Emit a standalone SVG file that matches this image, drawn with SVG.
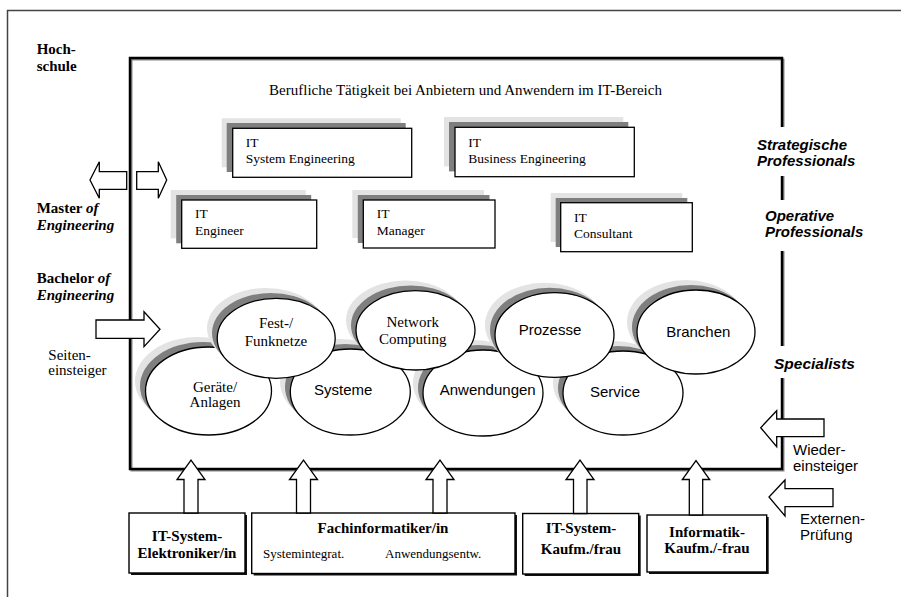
<svg xmlns="http://www.w3.org/2000/svg" width="901" height="597" viewBox="0 0 901 597">
<style>
.serif{font-family:"Liberation Serif","Times New Roman",serif;fill:#000}
.sans{font-family:"Liberation Sans",Arial,sans-serif;fill:#000}
.b{font-weight:bold}
.bi{font-weight:bold;font-style:italic}
.role{font-size:13.5px}
.lbl{font-size:15px}
.sh1{fill:#e3e3e3}
.sh2{fill:#7f7f7f}
.card{fill:#fff;stroke:#000;stroke-width:1.3}
.ell{fill:#fff;stroke:#000;stroke-width:1.3}
.arr{fill:#fff;stroke:#000;stroke-width:1.3;stroke-linejoin:miter}
.bshadow{fill:#111}
.bbox{fill:#fff;stroke:#000;stroke-width:1.4}
.gap{fill:#fff}
</style>
<rect width="901" height="597" fill="#fff"/>
<g id="frame">
<path d="M7.5,597 V10.5 H901" fill="none" stroke="#444" stroke-width="1.5"/>
</g>
<g id="main-box">
<rect x="131.5" y="59.5" width="652" height="411" fill="none" stroke="#888" stroke-width="2"/>
<rect x="130" y="58" width="652" height="411" fill="none" stroke="#000" stroke-width="2.5"/>
<text class="serif lbl" x="465.5" y="95" text-anchor="middle">Berufliche Tätigkeit bei Anbietern und Anwendern im IT-Bereich</text>
</g>
<g id="side-labels">
<rect class="gap" x="756" y="127" width="104" height="49"/>
<rect class="gap" x="762" y="200" width="104" height="51"/>
<rect class="gap" x="772" y="346" width="92" height="32"/>
<text class="sans bi" font-size="15" x="757" y="150">Strategische</text>
<text class="sans bi" font-size="15" x="757" y="166">Professionals</text>
<text class="sans bi" font-size="15" x="765" y="221">Operative</text>
<text class="sans bi" font-size="15" x="765" y="237">Professionals</text>
<text class="sans bi" font-size="15.5" x="774" y="369">Specialists</text>
</g>
<g id="hochschule">
<text class="serif b lbl" x="36.7" y="54">Hoch-</text>
<text class="serif b lbl" x="36.7" y="70.7">schule</text>
</g>
<g id="master">
<text class="serif b lbl" x="36.7" y="213.3">Master <tspan class="bi">of</tspan></text>
<text class="serif bi lbl" x="36.7" y="230">Engineering</text>
</g>
<g id="bachelor">
<text class="serif b lbl" x="36.7" y="283.3">Bachelor <tspan class="bi">of</tspan></text>
<text class="serif bi lbl" x="36.7" y="300">Engineering</text>
</g>
<g id="seiteneinsteiger">
<text class="serif lbl" x="48.3" y="360">Seiten-</text>
<text class="serif lbl" x="48.3" y="375">einsteiger</text>
</g>
<g id="wiedereinsteiger">
<text class="sans" font-size="15" x="793" y="455">Wieder-</text>
<text class="sans" font-size="15" x="793" y="471">einsteiger</text>
</g>
<g id="externenpruefung">
<text class="sans" font-size="15" x="800" y="524">Externen-</text>
<text class="sans" font-size="15" x="800" y="540">Prüfung</text>
</g>
<g id="it-system-engineering">
<rect class="sh1" x="221.7" y="118.3" width="179" height="49"/>
<rect class="sh2" x="226.7" y="123" width="179" height="49"/>
<rect class="card" x="232.7" y="128.3" width="179" height="49"/>
<text class="serif role" x="245.7" y="146.7">IT</text>
<text class="serif role" x="245.7" y="163.3">System Engineering</text>
</g>
<g id="it-business-engineering">
<rect class="sh1" x="444" y="117" width="179.3" height="49.4"/>
<rect class="sh2" x="449" y="122" width="179.3" height="49.4"/>
<rect class="card" x="455" y="127.3" width="179.3" height="49.4"/>
<text class="serif role" x="468.3" y="146.7">IT</text>
<text class="serif role" x="468.3" y="163.3">Business Engineering</text>
</g>
<g id="it-engineer">
<rect class="sh1" x="170.7" y="190" width="135" height="48.3"/>
<rect class="sh2" x="176.2" y="195" width="135" height="48.3"/>
<rect class="card" x="181.7" y="200" width="135" height="48.3"/>
<text class="serif role" x="195" y="218.3">IT</text>
<text class="serif role" x="195" y="235">Engineer</text>
</g>
<g id="it-manager">
<rect class="sh1" x="352.3" y="190" width="131.7" height="48"/>
<rect class="sh2" x="357.8" y="195" width="131.7" height="48"/>
<rect class="card" x="363.3" y="200" width="131.7" height="48"/>
<text class="serif role" x="376.7" y="218.3">IT</text>
<text class="serif role" x="376.7" y="235">Manager</text>
</g>
<g id="it-consultant">
<rect class="sh1" x="550.7" y="193" width="131.6" height="49"/>
<rect class="sh2" x="555.7" y="198" width="131.6" height="49"/>
<rect class="card" x="560.7" y="202.7" width="131.6" height="49"/>
<text class="serif role" x="574" y="221.7">IT</text>
<text class="serif role" x="574" y="237.7">Consultant</text>
</g>
<g id="geraete">
<ellipse class="sh1" cx="198" cy="381" rx="63" ry="44"/>
<ellipse class="sh2" cx="203" cy="386" rx="63" ry="44"/>
<ellipse class="ell" cx="208.5" cy="391" rx="63" ry="44"/>
<text class="serif lbl" x="215" y="391.7" text-anchor="middle">Geräte/</text>
<text class="serif lbl" x="215" y="407" text-anchor="middle">Anlagen</text>
</g>
<g id="systeme">
<ellipse class="sh1" cx="340" cy="382" rx="60" ry="43"/>
<ellipse class="sh2" cx="345" cy="387" rx="60" ry="43"/>
<ellipse class="ell" cx="350.3" cy="392" rx="60" ry="43"/>
<text class="sans lbl" x="343.3" y="395" text-anchor="middle">Systeme</text>
</g>
<g id="anwendungen">
<ellipse class="sh1" cx="473" cy="383" rx="60" ry="43"/>
<ellipse class="sh2" cx="478" cy="388" rx="60" ry="43"/>
<ellipse class="ell" cx="483" cy="393" rx="60" ry="43"/>
<text class="sans lbl" x="487.7" y="395" text-anchor="middle">Anwendungen</text>
</g>
<g id="service">
<ellipse class="sh1" cx="613" cy="383" rx="60" ry="42"/>
<ellipse class="sh2" cx="618" cy="388" rx="60" ry="42"/>
<ellipse class="ell" cx="623" cy="393" rx="60" ry="42"/>
<text class="sans lbl" x="615" y="396.7" text-anchor="middle">Service</text>
</g>
<g id="fest-funknetze">
<ellipse class="sh1" cx="266" cy="328" rx="59" ry="40"/>
<ellipse class="sh2" cx="271" cy="333" rx="59" ry="40"/>
<ellipse class="ell" cx="276.2" cy="338.3" rx="59" ry="40"/>
<text class="serif lbl" x="276" y="328.3" text-anchor="middle">Fest-/</text>
<text class="serif lbl" x="276" y="346" text-anchor="middle">Funknetze</text>
</g>
<g id="network-computing">
<ellipse class="sh1" cx="405.5" cy="320.3" rx="59.5" ry="39.7"/>
<ellipse class="sh2" cx="410.5" cy="325.3" rx="59.5" ry="39.7"/>
<ellipse class="ell" cx="415.5" cy="330.3" rx="59.5" ry="39.7"/>
<text class="serif lbl" x="412.7" y="326.7" text-anchor="middle">Network</text>
<text class="serif lbl" x="412.7" y="344" text-anchor="middle">Computing</text>
</g>
<g id="prozesse">
<ellipse class="sh1" cx="544.5" cy="325" rx="59.5" ry="42.3"/>
<ellipse class="sh2" cx="549.5" cy="330" rx="59.5" ry="42.3"/>
<ellipse class="ell" cx="554.5" cy="335" rx="59.5" ry="42.3"/>
<text class="sans lbl" x="550" y="335" text-anchor="middle">Prozesse</text>
</g>
<g id="branchen">
<ellipse class="sh1" cx="686" cy="322" rx="59" ry="42"/>
<ellipse class="sh2" cx="691" cy="327" rx="59" ry="42"/>
<ellipse class="ell" cx="696" cy="332" rx="59" ry="42"/>
<text class="sans lbl" x="698.3" y="336.7" text-anchor="middle">Branchen</text>
</g>
<g id="it-system-elektroniker">
<rect class="bshadow" x="131" y="515" width="116" height="60"/>
<rect class="bbox" x="129" y="513" width="116" height="60"/>
<text class="serif b lbl" x="187" y="541.3" text-anchor="middle">IT-System-</text>
<text class="serif b lbl" x="187" y="557.5" text-anchor="middle">Elektroniker/in</text>
</g>
<g id="fachinformatiker">
<rect class="bshadow" x="253.7" y="515" width="263.3" height="60.5"/>
<rect class="bbox" x="251.7" y="513" width="263.3" height="60.5"/>
<text class="serif b lbl" x="383" y="533" text-anchor="middle">Fachinformatiker/in</text>
<text class="serif" font-size="13" x="263" y="558">Systemintegrat.</text>
<text class="serif" font-size="13" x="385" y="558">Anwendungsentw.</text>
</g>
<g id="it-system-kaufmann">
<rect class="bshadow" x="524.7" y="515.5" width="116" height="60.5"/>
<rect class="bbox" x="522.7" y="513.5" width="116" height="60.5"/>
<text class="serif b lbl" x="581" y="533.3" text-anchor="middle">IT-System-</text>
<text class="serif b lbl" x="581" y="554" text-anchor="middle">Kaufm./frau</text>
</g>
<g id="informatik-kaufmann">
<rect class="bshadow" x="649" y="517" width="119.7" height="57"/>
<rect class="bbox" x="647" y="515" width="119.7" height="57"/>
<text class="serif b lbl" x="707" y="536.7" text-anchor="middle">Informatik-</text>
<text class="serif b lbl" x="707" y="553.3" text-anchor="middle">Kaufm./-frau</text>
</g>
<g id="connectors">
<path class="arr" d="M126.7,171.7 H99.3 V161.7 L90,180 L99.3,198.3 V189.3 H126.7 Z"/>
<path class="arr" d="M136.7,171.7 H158.3 V161.7 L166.7,180 L158.3,198.3 V189.3 H136.7 Z"/>
<path class="arr" d="M96,320 H144 V311.7 L160,329.3 L144,346.7 V338.3 H96 Z"/>
<path class="arr" d="M824,419 H776.7 V410.7 L760.7,427.7 L776.7,446.7 V436.7 H824 Z"/>
<path class="arr" d="M833,488.7 H785 V480 L769,497 L785,516 V506.7 H833 Z"/>
<path class="arr" d="M184,513 V479.5 H177 L191,460 L205,479.5 H198 V513 Z"/>
<path class="arr" d="M296.5,513 V479.5 H289.5 L303.5,460 L317.5,479.5 H310.5 V513 Z"/>
<path class="arr" d="M433,513 V479.5 H426 L440,460 L454,479.5 H447 V513 Z"/>
<path class="arr" d="M573.5,513.5 V479.5 H566 L580,460 L594,479.5 H587 V513.5 Z"/>
<path class="arr" d="M689.3,515 V479.5 H682.3 L696,460.5 L709.7,479.5 H702.7 V515 Z"/>
</g>
</svg>
